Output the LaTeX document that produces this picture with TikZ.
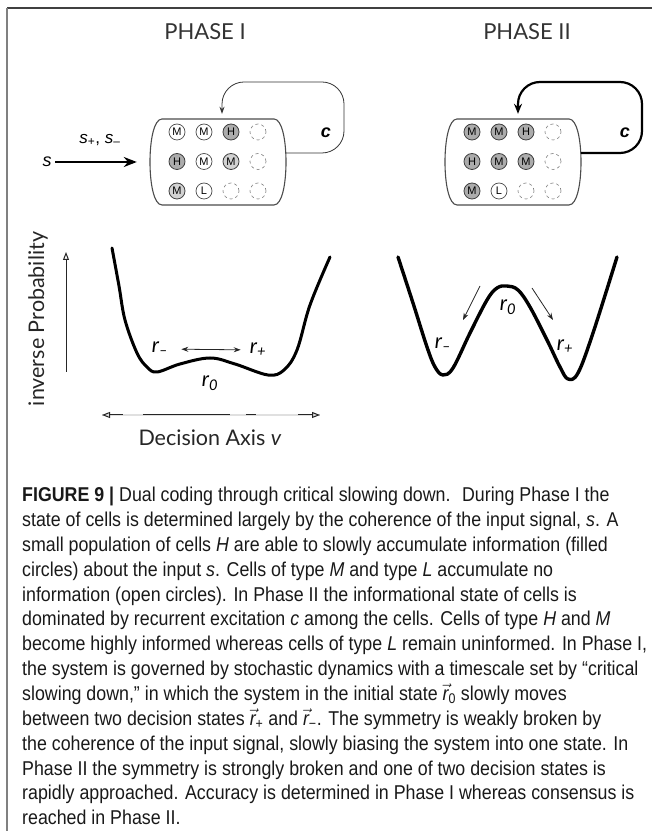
\documentclass[tikz,border=0pt]{standalone}
\usepackage{fontspec}
\setmainfont{Liberation Sans}
\newfontfamily\capfont{Liberation Sans}[FakeStretch=0.89]
\newfontfamily\figfont{Lato}
\usepackage{tikz}
\usetikzlibrary{arrows.meta,positioning,calc}

\newcommand{\vecr}[1]{$\vec{\textit{r}}$\textsubscript{#1}}

\tikzset{
  phase/.style={font=\figfont\fontsize{22}{24}\selectfont, text=black!80},
  tray/.style={minimum width=136pt, minimum height=86pt, inner sep=0pt},
  trayline/.style={draw=black!70, line width=1.1pt},
  cell/.style={circle, minimum size=16pt, inner sep=0pt, font=\fontsize{11}{11}\selectfont},
  cellopen/.style={cell, draw=black!70, line width=0.7pt, fill=white},
  celllight/.style={cell, draw=black!75, line width=0.8pt, fill=gray!35},
  cellfull/.style={cell, draw=black!75, line width=0.8pt, fill=gray!65},
  cellnone/.style={cell, draw=black!50, line width=0.6pt, dashed},
  loopI/.style={draw=black!80, line width=0.8pt, rounded corners=22pt, -{Stealth[length=7pt, width=5pt]}},
  loopII/.style={draw=black, line width=2.2pt, rounded corners=22pt, -{Stealth[length=10pt, width=8pt]}},
  input/.style={line width=2.4pt, -{Stealth[length=13pt, width=10pt]}},
  sym/.style={font=\fontsize{18}{20}\selectfont\itshape},
  clabel/.style={font=\fontsize{18}{20}\selectfont\bfseries\itshape},
  axlabel/.style={font=\figfont\fontsize{21.5}{24}\selectfont, text=black!85},
  openarrow/.style={line width=1pt, black!85, -{Triangle[open, length=8pt, width=6pt]}},
  well/.style={line width=3pt, line cap=round, line join=round},
  rlabel/.style={font=\figfont\fontsize{21}{24}\selectfont\itshape, inner sep=1pt},
  thinarrow/.style={line width=0.8pt, black!85, -{Stealth[length=7pt, width=5pt]}},
  caption/.style={inner sep=0pt, align=left, text=black!90,
    font=\capfont\fontsize{20}{24.85}\selectfont}
}

\begin{document}
\begin{tikzpicture}[x=1pt, y=1pt]
\useasboundingbox (0,0) rectangle (652,831);
% frame
\draw[black!75, line width=1.6pt] (7,823) -- (652,823);
\draw[black!50, line width=2pt] (7,823) -- (7,0);

% titles
\node[phase] (phI) at (205,799) {PHASE I};
\node[phase] (phII) at (527,799) {PHASE II};

% cell trays
\node[tray] (boxI) at (218,669) {};
\node[tray] (boxII) at (513,669) {};
\foreach \b in {boxI, boxII}
  \draw[trayline, shift={(\b.center)}] (-56,43) -- (56,43)
    .. controls (64,43) and (68,22) .. (68,0)
    .. controls (68,-22) and (64,-43) .. (56,-43) -- (-56,-43)
    .. controls (-64,-43) and (-68,-22) .. (-68,0)
    .. controls (-68,22) and (-64,43) .. (-56,43) -- cycle;

\foreach \lab/\kind [count=\n from 0] in {M/cellopen, M/cellopen, H/cellfull, /cellnone,
    H/cellfull, M/cellopen, M/celllight, /cellnone, M/celllight, L/cellopen, /cellnone, /cellnone}{
  \pgfmathtruncatemacro\col{mod(\n,4)}
  \pgfmathtruncatemacro\row{div(\n,4)}
  \node[\kind] (mI-\n) at ($(boxI.center)+(-41+27*\col, 30-29.5*\row)$) {\lab};
}
\foreach \lab/\kind [count=\n from 0] in {M/cellfull, M/cellfull, H/cellfull, /cellnone,
    H/cellfull, M/cellfull, M/cellfull, /cellnone, M/cellfull, L/cellopen, /cellnone, /cellnone}{
  \pgfmathtruncatemacro\col{mod(\n,4)}
  \pgfmathtruncatemacro\row{div(\n,4)}
  \node[\kind] (mII-\n) at ($(boxII.center)+(-41+27*\col, 30-29.5*\row)$) {\lab};
}

% recurrent excitation
\coordinate (cornI) at (344,749);
\coordinate (cornII) at (642,749);
\draw[loopI] ([yshift=9pt]boxI.east) -| (cornI) -| ([xshift=4pt, yshift=5pt]boxI.north);
\draw[loopII] ([yshift=9pt]boxII.east) -| (cornII) -| ([xshift=5pt, yshift=5pt]boxII.north);
\node[clabel] (cI) at (326,698) {c};
\node[clabel] (cII) at (625,698) {c};

% input signal
\node[sym] (s) at (47,669) {s};
\node[sym, font=\fontsize{17}{20}\selectfont] (spm) at (100,691) {\textit{s}\textsubscript{+}, \textit{s}\textsubscript{–}};
\draw[input] (s) -- ([xshift=-13pt]boxI.west);

% axes
\node[axlabel, rotate=90] (ylab) at (38,512) {inverse Probability};
\coordinate (yb) at (66,459);
\coordinate (yt) at (66,579);
\draw[openarrow] (yb) -- (yt);
\coordinate (axl) at (102,416);
\coordinate (axr) at (320,416);
\draw[black!12, line width=1.2pt] (axl) -- (axr);
\draw[openarrow, {Triangle[open, length=8pt, width=6pt]}-{Triangle[open, length=8pt, width=6pt]},
  dash pattern=on 13pt off 20pt on 87pt off 16pt on 10pt off 42pt on 30pt] (axl) -- (axr);
\node[axlabel] (xlab) at (210,393) {Decision Axis \textit{v}};

% phase I landscape
\draw[well] plot[smooth, tension=0.6] coordinates {(112,583) (119,545) (125,511) (137,478)
  (147,464) (157,459) (180,467) (210,473) (235,467) (268,456) (284,461) (297,481) (310,526) (330,574)};
\node[rlabel] (rmI) at (160,482) {r\textsubscript{–}};
\node[rlabel] (rpI) at (258,481) {r\textsubscript{+}};
\node[rlabel] (r0I) at (210,448) {r\textsubscript{0}};
\draw[thinarrow, {Stealth[length=7pt, width=5pt]}-{Stealth[length=7pt, width=5pt]},
  shorten <=12pt, shorten >=8pt] (rmI) -- (rpI);

% phase II landscape
\draw[well, line width=3.4pt] plot[smooth, tension=0.6] coordinates {(398,574) (413,528) (427,484)
  (435,464) (443,456) (453,463) (470,498) (487,531) (497,543) (507,545) (518,541) (530,524)
  (547,491) (560,464) (568,452) (578,458) (593,498) (617,574)};
\node[rlabel] (rmII) at (443,486) {r\textsubscript{–}};
\node[rlabel] (rpII) at (565,484) {r\textsubscript{+}};
\node[rlabel] (r0II) at (508,524) {r\textsubscript{0}};
\coordinate (dlA) at (480,545);
\coordinate (dlB) at (463,511);
\coordinate (drA) at (532,543);
\coordinate (drB) at (553,511);
\draw[thinarrow] (dlA) -- (dlB);
\draw[thinarrow] (drA) -- (drB);

% caption
\node[caption, anchor=north west] (cap) at (22,344) {%
\textbf{FIGURE 9 |} Dual coding through critical slowing down.~ During Phase I the\\
state of cells is determined largely by the coherence of the input signal, \textit{s}. A\\
small population of cells \textit{H} are able to slowly accumulate information (filled\\
circles) about the input \textit{s}. Cells of type \textit{M} and type \textit{L} accumulate no\\
information (open circles). In Phase II the informational state of cells is\\
dominated by recurrent excitation \textit{c} among the cells. Cells of type \textit{H} and \textit{M}\\
become highly informed whereas cells of type \textit{L} remain uninformed. In Phase I,\\
the system is governed by stochastic dynamics with a timescale set by “critical\\
slowing down,” in which the system in the initial state \vecr{0} slowly moves\\
between two decision states \vecr{+} and \vecr{−}. The symmetry is weakly broken by\\
the coherence of the input signal, slowly biasing the system into one state. In\\
Phase II the symmetry is strongly broken and one of two decision states is\\
rapidly approached. Accuracy is determined in Phase I whereas consensus is\\
reached in Phase II.};
\end{tikzpicture}
\end{document}
